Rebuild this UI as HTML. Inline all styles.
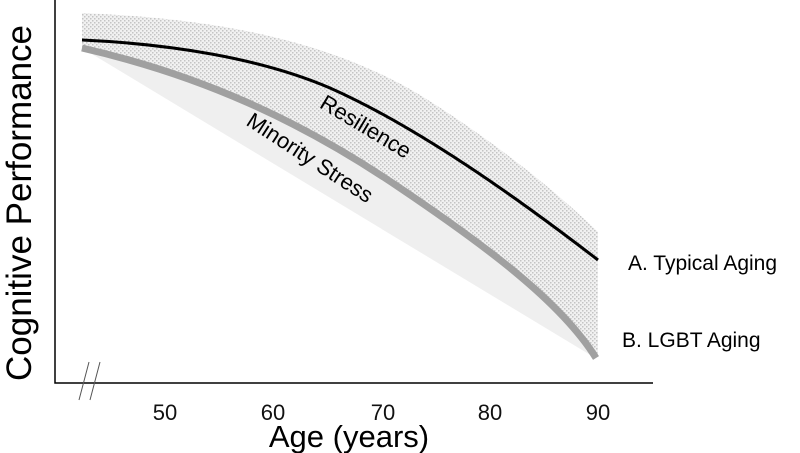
<!DOCTYPE html>
<html><head><style>body{margin:0;background:#fff}svg{display:block}</style></head>
<body>
<svg width="800" height="453" viewBox="0 0 800 453" xmlns="http://www.w3.org/2000/svg" font-family="Liberation Sans, sans-serif">
<defs>
<pattern id="dots" width="4" height="4" patternUnits="userSpaceOnUse">
<rect width="4" height="4" fill="#f1f1f1"/>
<rect x="0" y="0" width="1.5" height="1.5" fill="#c4c4c4"/>
<rect x="2" y="2" width="1.5" height="1.5" fill="#c4c4c4"/>
</pattern>
</defs>
<path d="M82,48 C200,75 300,120 400,188 C480,242 560,300 596,358 L592,356 L82,48 Z" fill="#efefef"/>
<path d="M82,13 C200,18 320,35 420,95 C500,145 560,195 598,232 L598,354 L596,358 C560,300 480,242 400,188 C300,120 200,75 82,48 Z" fill="url(#dots)"/>
<path d="M82,48 C200,75 300,120 400,188 C480,242 560,300 596,358" fill="none" stroke="#a0a0a0" stroke-width="7"/>
<path d="M82,40 C170,44 260,58 330,88 C420,128 520,200 598,260" fill="none" stroke="#000" stroke-width="3"/>
<path d="M55,0 L55,383 L653,383" fill="none" stroke="#000" stroke-width="1.5"/>
<path d="M79,400 L89,362 M90,400 L100,362" stroke="#555" stroke-width="1"/>
<g font-size="22" text-anchor="middle" fill="#111">
<text x="165" y="420">50</text><text x="273" y="420">60</text><text x="383" y="420">70</text><text x="490" y="420">80</text><text x="598" y="420">90</text>
</g>
<text x="349" y="447" font-size="31" text-anchor="middle">Age (years)</text>
<text transform="translate(31,203) rotate(-90)" font-size="35" text-anchor="middle">Cognitive Performance</text>
<text transform="translate(362,133) rotate(31)" font-size="22" text-anchor="middle">Resilience</text>
<text transform="translate(306,164) rotate(33)" font-size="22" text-anchor="middle">Minority Stress</text>
<text x="628" y="270" font-size="21">A. Typical Aging</text>
<text x="622" y="347" font-size="21">B. LGBT Aging</text>
</svg>
</body></html>
